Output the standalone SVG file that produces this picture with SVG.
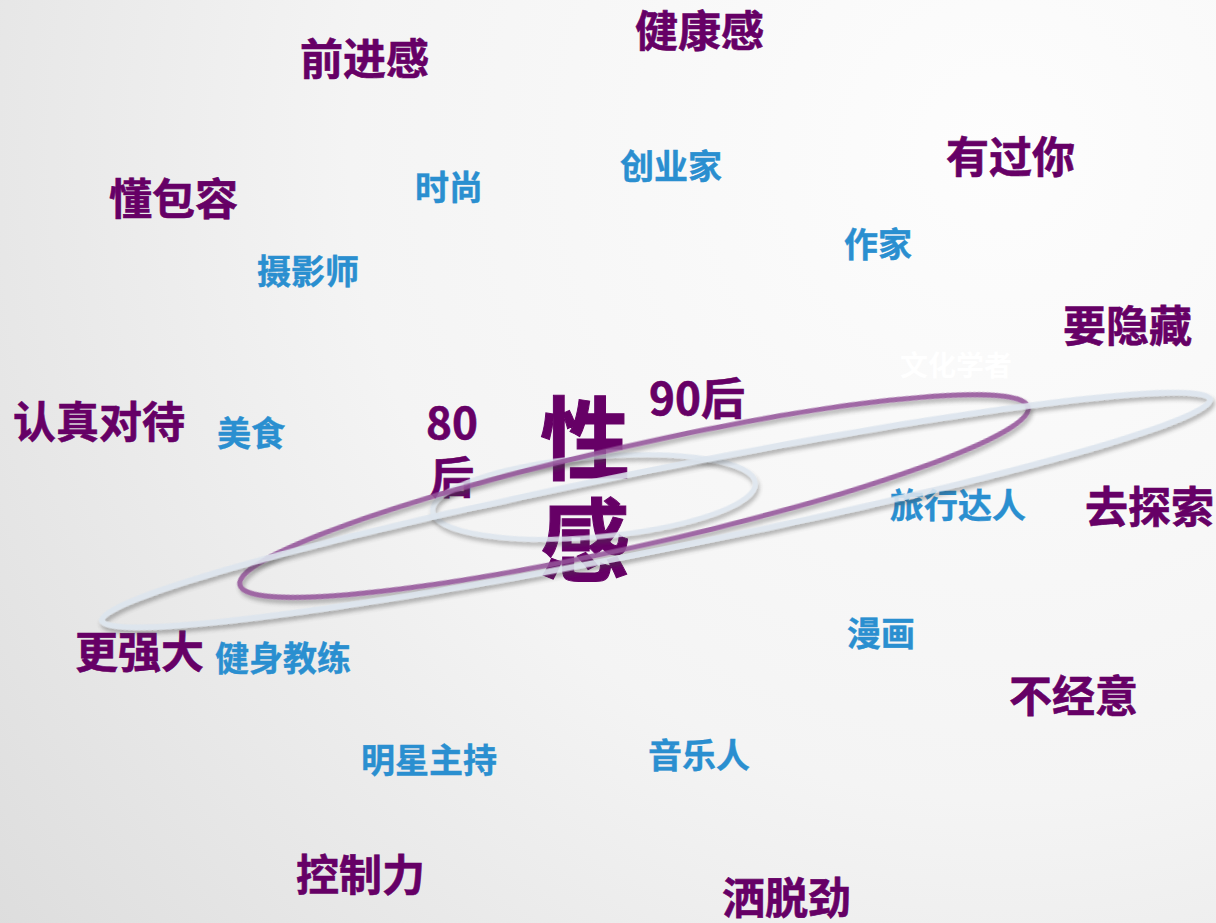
<svg xmlns="http://www.w3.org/2000/svg" width="1216" height="923" viewBox="0 0 1216 923">
<defs>
<radialGradient id="bg" cx="1000" cy="150" r="1300" gradientUnits="userSpaceOnUse">
<stop offset="0" stop-color="#fdfdfd"/>
<stop offset="0.5" stop-color="#f4f4f4"/>
<stop offset="1" stop-color="#dcdcdc"/>
</radialGradient>
<filter id="sh" x="-10%" y="-50%" width="120%" height="200%">
<feDropShadow dx="1" dy="4" stdDeviation="2" flood-color="#404040" flood-opacity="0.45"/>
</filter>
<style>
text{font-family:"Noto Sans CJK SC","Noto Sans",sans-serif;font-weight:bold}
.p{fill:#660066;stroke:#660066;stroke-width:0.6;font-size:43px}
.b{fill:#2a8fd0;stroke:#2a8fd0;stroke-width:0.4;font-size:34px}
.w{fill:#ffffff;font-size:28px}
.big{fill:#660066;stroke:#660066;stroke-width:1;font-size:90px}
.mid{fill:#660066;stroke:#660066;stroke-width:0.6;font-size:44px}
.ring{fill:none}
</style>
</defs>
<rect width="1216" height="923" fill="url(#bg)"/>
<g id="n-qianjin"><text class="p" x="300" y="75">前进感</text></g>
<g id="n-jiankang"><text class="p" x="635" y="47">健康感</text></g>
<g id="n-youguoni"><text class="p" x="946" y="173">有过你</text></g>
<g id="n-dongbaorong"><text class="p" x="109" y="215">懂包容</text></g>
<g id="n-yaoyincang"><text class="p" x="1063" y="342">要隐藏</text></g>
<g id="n-renzhen"><text class="p" x="13" y="438">认真对待</text></g>
<g id="n-qutansuo"><text class="p" x="1085" y="523">去探索</text></g>
<g id="n-gengqiangda"><text class="p" x="75" y="668">更强大</text></g>
<g id="n-bujingyi"><text class="p" x="1009" y="712">不经意</text></g>
<g id="n-kongzhili"><text class="p" x="296" y="891">控制力</text></g>
<g id="n-satuojin"><text class="p" x="722" y="914">洒脱劲</text></g>
<g id="n-shishang"><text class="b" x="415" y="200">时尚</text></g>
<g id="n-chuangyejia"><text class="b" x="620" y="179">创业家</text></g>
<g id="n-zuojia"><text class="b" x="844" y="257">作家</text></g>
<g id="n-sheyingshi"><text class="b" x="257" y="284">摄影师</text></g>
<g id="n-meishi"><text class="b" x="217" y="446">美食</text></g>
<g id="n-lvxing"><text class="b" x="890" y="518">旅行达人</text></g>
<g id="n-manhua"><text class="b" x="847" y="646">漫画</text></g>
<g id="n-jianshen"><text class="b" x="215" y="671">健身教练</text></g>
<g id="n-yinyueren"><text class="b" x="648" y="768">音乐人</text></g>
<g id="n-mingxing"><text class="b" x="361" y="773">明星主持</text></g>
<g id="n-wenhua"><text class="w" x="900" y="376">文化学者</text></g>
<g id="n-80"><text class="mid" x="426" y="439">80</text><text class="mid" x="430" y="494">后</text></g>
<g id="n-90"><text class="mid" x="649" y="415">90后</text></g>
<g id="n-xinggan"><text class="big" x="540" y="472">性</text><text class="big" x="540" y="574">感</text></g>
<g id="connectors">
<ellipse class="ring" cx="594" cy="497" rx="162" ry="40" transform="rotate(-5 594 497)" stroke="#dde5ee" stroke-width="5" opacity="0.85" filter="url(#sh)"/>
<ellipse class="ring" cx="634" cy="496" rx="404" ry="50" transform="rotate(-12.7 634 496)" stroke="#94559a" stroke-width="5" opacity="0.88" filter="url(#sh)"/>
<ellipse class="ring" cx="656" cy="510" rx="565" ry="40" transform="rotate(-11.3 656 510)" stroke="#dde5ee" stroke-width="6" opacity="0.9" filter="url(#sh)"/>
</g>
</svg>
